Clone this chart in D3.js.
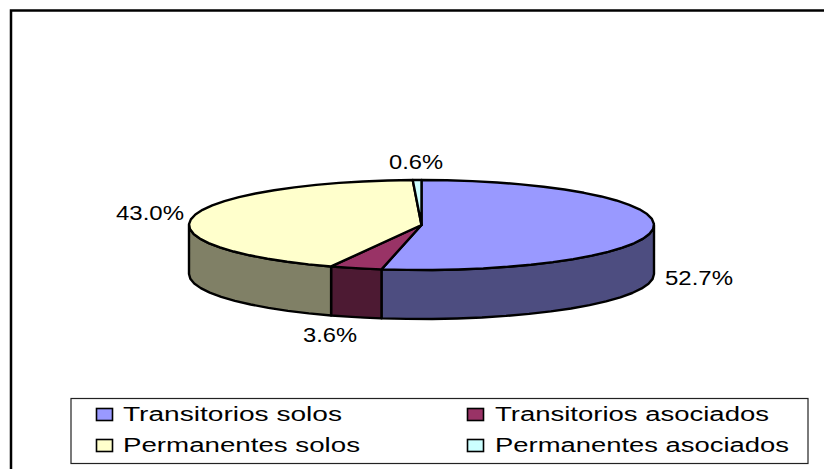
<!DOCTYPE html>
<html><head><meta charset="utf-8">
<script src="https://cdnjs.cloudflare.com/ajax/libs/d3/7.8.5/d3.min.js"></script>
<style>html,body{margin:0;padding:0;background:#fff;overflow:hidden}svg{display:block}text{font-family:"Liberation Sans",Arial,sans-serif;fill:#000}</style>
</head><body><svg id="c" width="824" height="469"></svg>
<script>
const categories=["Transitorios solos","Transitorios asociados","Permanentes solos","Permanentes asociados"];
const values=[52.7,3.6,43.0,0.6];
const labels=["52.7%","3.6%","43.0%","0.6%"];
const topColors=["#9999ff","#993366","#ffffcc","#ccffff"];
const sideColors=["#4d4d80","#4d1a33","#808066","#668080"];
const svg=d3.select("#c");
const W=824,H=469,cx=421.5,cy=225,rx=232.5,ry=45,depth=49;
svg.append("path").attr("d",d3.line()([[11,H],[11,10.5],[W,10.5]])).attr("fill","none").attr("stroke","#000").attr("stroke-width",2.5);
const arcs=d3.pie().sort(null).value(d=>d)(values);
const px=d3.scaleLinear().domain([-1,1]).range([cx-rx,cx+rx]);
const py=d3.scaleLinear().domain([-1,1]).range([cy-ry,cy+ry]);
const pt=(a,dz)=>[px(Math.sin(a)),py(-Math.cos(a))+dz];
const g=svg.append("g").attr("stroke","#000").attr("stroke-width",2.4).attr("stroke-linejoin","round");
const line=d3.line();
arcs.forEach((d,i)=>{
  const a0=Math.max(d.startAngle,Math.PI/2),a1=Math.min(d.endAngle,3*Math.PI/2);
  if(a1<=a0)return;
  const n=Math.max(2,Math.ceil((a1-a0)*9));
  const as=d3.range(0,n+1).map(k=>a0+(a1-a0)*k/n);
  const pts=as.map(a=>pt(a,0)).concat(as.slice().reverse().map(a=>pt(a,depth)));
  g.append("path").attr("d",line(pts)+"Z").attr("fill",sideColors[i]);
});
arcs.forEach((d,i)=>{
  const n=Math.max(2,Math.ceil((d.endAngle-d.startAngle)*9));
  const pts=[[px(0),py(0)]].concat(d3.range(0,n+1).map(k=>pt(d.startAngle+(d.endAngle-d.startAngle)*k/n,0)));
  g.append("path").attr("d",line(pts)+"Z").attr("fill",topColors[i]);
});
const labelPos=[[699,278],[330,335],[150,213],[416,162]];
const labelW=[68,54,68,54];
labels.forEach((t,i)=>{
  svg.append("text").attr("x",labelPos[i][0]).attr("y",labelPos[i][1]+7).attr("text-anchor","middle")
    .attr("font-size",20).attr("textLength",labelW[i]).attr("lengthAdjust","spacingAndGlyphs").text(t);
});
const lg=svg.append("g");
lg.append("rect").attr("x",71).attr("y",398.5).attr("width",737).attr("height",65).attr("fill","#fff").attr("stroke","#222").attr("stroke-width",1.2);
const swatchX=[96.5,467.5],textX=[123,495],baseY=[420.5,451.5],tw=[219,274,237,294];
categories.forEach((c,i)=>{
  const col=i%2,row=i>>1;
  lg.append("rect").attr("x",swatchX[col]).attr("y",baseY[row]-12).attr("width",16).attr("height",12).attr("fill",topColors[i]).attr("stroke","#000").attr("stroke-width",1.6);
  lg.append("text").attr("x",textX[col]).attr("y",baseY[row]).attr("font-size",20).attr("textLength",tw[i]).attr("lengthAdjust","spacingAndGlyphs").text(c);
});
</script></body></html>
